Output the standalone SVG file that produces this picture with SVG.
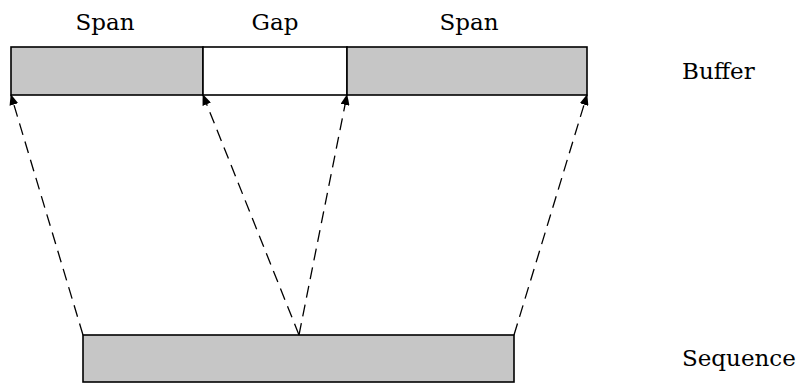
<svg xmlns="http://www.w3.org/2000/svg" width="803" height="385" viewBox="0 0 803 385">
<style>
.t{font-family:"DejaVu Serif",serif;font-size:23px;fill:#000}
.span{fill:#c6c6c6;stroke:#000;stroke-width:1.6}
.gap{fill:#fff;stroke:#000;stroke-width:1.6}
.c{stroke:#000;stroke-width:1.3;stroke-dasharray:12,7;fill:none}
</style>
<defs>
<marker id="ah" markerWidth="11" markerHeight="9" refX="10" refY="4.5" orient="auto" markerUnits="userSpaceOnUse">
<path d="M0,0 L11,4.5 L0,9 Z" fill="#000"/>
</marker>
</defs>
<rect width="803" height="385" fill="#fff"/>
<g id="buffer">
<rect class="span" x="11" y="47" width="192" height="48"/>
<rect class="gap" x="203" y="47" width="144" height="48"/>
<rect class="span" x="347" y="47" width="240" height="48"/>
</g>
<g id="labels">
<text class="t" x="105" y="30" text-anchor="middle">Span</text>
<text class="t" x="275" y="30" text-anchor="middle">Gap</text>
<text class="t" x="469" y="30" text-anchor="middle">Span</text>
<text class="t" x="682" y="79">Buffer</text>
<text class="t" x="682" y="366">Sequence</text>
</g>
<g id="sequence">
<rect class="span" x="83" y="335" width="431" height="47"/>
</g>
<g id="connectors">
<line class="c" x1="83" y1="335" x2="11" y2="95" marker-end="url(#ah)"/>
<line class="c" x1="299" y1="335" x2="203" y2="95" marker-end="url(#ah)"/>
<line class="c" x1="299" y1="335" x2="347" y2="95" marker-end="url(#ah)"/>
<line class="c" x1="514" y1="335" x2="587" y2="95" marker-end="url(#ah)"/>
</g>
</svg>
